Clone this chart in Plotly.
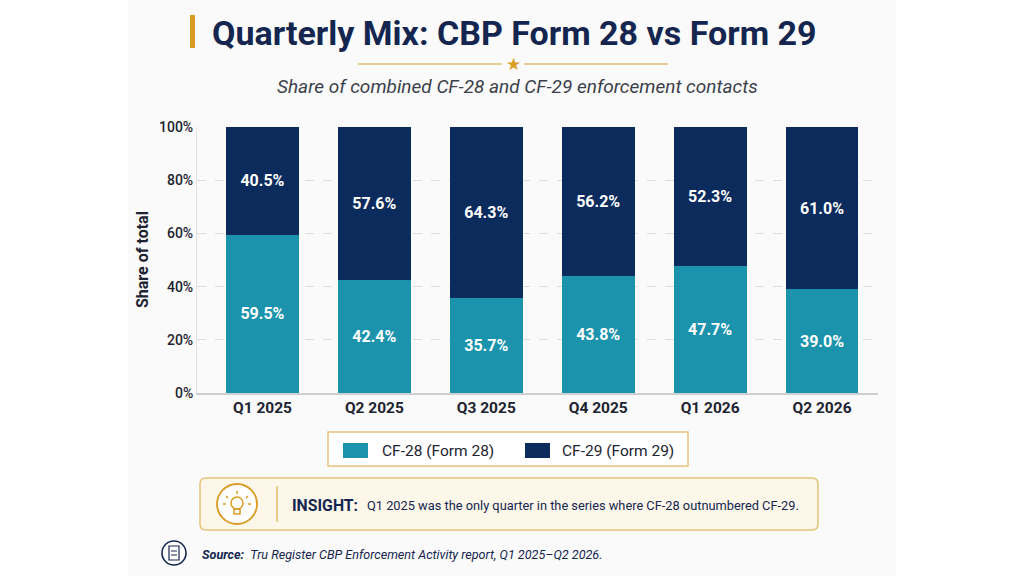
import plotly.graph_objects as go

quarters = ['Q1 2025', 'Q2 2025', 'Q3 2025', 'Q4 2025', 'Q1 2026', 'Q2 2026']
cf28_share = [59.5, 42.4, 35.7, 43.8, 47.7, 39.0]
cf29_share = [40.5, 57.6, 64.3, 56.2, 52.3, 61.0]
series_names = ['CF-28 (Form 28)', 'CF-29 (Form 29)']
y_ticks = [0, 20, 40, 60, 80, 100]
y_tick_labels = ['0%', '20%', '40%', '60%', '80%', '100%']

TEAL = '#1b93ad'
NAVY = '#0b2b5c'
INK = '#14264f'
GOLD = '#d89c22'
FONT = 'Roboto'

W, H = 1024, 576
L, R, T, B = 197, 146, 127, 183


# pixel -> paper helpers for the decorations around the plot
def px(x):
    return (x - L) / (W - L - R)


def py(y):
    return (H - B - y) / (H - T - B)


fig = go.Figure()
for vals, name, color in [(cf28_share, series_names[0], TEAL), (cf29_share, series_names[1], NAVY)]:
    fig.add_trace(go.Bar(
        x=quarters, y=vals, name=name,
        marker_color=color, marker_line_width=0, width=0.65,
        text=[f'{v:.1f}%' for v in vals], textposition='inside',
        insidetextanchor='middle',
        textfont=dict(color='white', size=16, family=FONT, weight='bold'),
        hoverinfo='none'
    ))


def line(x0, y0, x1, y1, color, width=1.5):
    return dict(type='line', xref='paper', yref='paper', x0=px(x0), x1=px(x1), y0=py(y0), y1=py(y1),
                line=dict(color=color, width=width))


shapes = [
    # light card behind the chart
    dict(type='rect', xref='paper', yref='paper', x0=px(128), x1=px(896), y0=py(576), y1=py(0),
         fillcolor='#fafafa', line_width=0, layer='below'),
    # gold accent next to title
    dict(type='rect', xref='paper', yref='paper', x0=px(190), x1=px(195), y0=py(48), y1=py(15),
         fillcolor=GOLD, line_width=0),
    # divider lines around star
    line(358, 64, 502, 64, '#e2be6e'),
    line(524, 64, 668, 64, '#e2be6e'),
    # legend box
    dict(type='rect', xref='paper', yref='paper', x0=px(328), x1=px(688), y0=py(466), y1=py(432),
         fillcolor='white', line=dict(color='#e6c27a', width=1.5)),
    dict(type='rect', xref='paper', yref='paper', x0=px(343), x1=px(368), y0=py(458), y1=py(443),
         fillcolor=TEAL, line_width=0),
    dict(type='rect', xref='paper', yref='paper', x0=px(525), x1=px(550), y0=py(458), y1=py(443),
         fillcolor=NAVY, line_width=0),
    # insight box
    dict(type='path', xref='paper', yref='paper',
         path=(f'M {px(206)},{py(478)} L {px(812)},{py(478)} Q {px(818)},{py(478)} {px(818)},{py(484)} '
               f'L {px(818)},{py(524)} Q {px(818)},{py(530)} {px(812)},{py(530)} '
               f'L {px(206)},{py(530)} Q {px(200)},{py(530)} {px(200)},{py(524)} '
               f'L {px(200)},{py(484)} Q {px(200)},{py(478)} {px(206)},{py(478)} Z'),
         fillcolor='#fdf7ea', line=dict(color='#e6c27a', width=1.5)),
    # bulb icon
    dict(type='circle', xref='paper', yref='paper', x0=px(217), x1=px(257), y0=py(524), y1=py(484),
         fillcolor='white', line=dict(color=GOLD, width=1.8)),
    dict(type='circle', xref='paper', yref='paper', x0=px(231), x1=px(243), y0=py(509), y1=py(497),
         line=dict(color=GOLD, width=1.5)),
    dict(type='rect', xref='paper', yref='paper', x0=px(234), x1=px(240), y0=py(514), y1=py(509),
         line=dict(color=GOLD, width=1.5)),
    line(237, 494, 237, 491, GOLD),
    line(228, 498, 226, 496, GOLD),
    line(246, 498, 248, 496, GOLD),
    line(226, 504, 223, 504, GOLD),
    line(248, 504, 251, 504, GOLD),
    # vertical divider in insight box
    line(277, 486, 277, 522, '#e2be6e'),
    # source icon
    dict(type='circle', xref='paper', yref='paper', x0=px(162), x1=px(186), y0=py(565), y1=py(541),
         fillcolor='white', line=dict(color=INK, width=1.6)),
    dict(type='rect', xref='paper', yref='paper', x0=px(169), x1=px(179), y0=py(560), y1=py(546),
         line=dict(color=INK, width=1.2)),
    line(171, 551, 177, 551, INK, 1),
    line(171, 555, 177, 555, INK, 1),
]

annotations = [
    dict(text='<b>Quarterly Mix: CBP Form 28 vs Form 29</b>', x=px(514), y=py(33),
         font=dict(size=34, color=INK, family=FONT)),
    dict(text='★', x=px(513), y=py(64), font=dict(size=17, color=GOLD, family='DejaVu Sans')),
    dict(text='<i>Share of combined CF-28 and CF-29 enforcement contacts</i>', x=px(517), y=py(86),
         font=dict(size=19, color='#3a3f4a', family=FONT)),
    dict(text='<b>Share of total</b>', x=px(142), y=py(260), textangle=-90,
         font=dict(size=16, color='#1d2330', family=FONT)),
    dict(text=series_names[0], x=px(380), y=py(451), xanchor='left',
         font=dict(size=15.5, color='#1d2330', family=FONT)),
    dict(text=series_names[1], x=px(560), y=py(451), xanchor='left',
         font=dict(size=15.5, color='#1d2330', family=FONT)),
    dict(text='<b>INSIGHT:</b>', x=px(290), y=py(505), xanchor='left',
         font=dict(size=15.8, color=INK, family=FONT)),
    dict(text='Q1 2025 was the only quarter in the series where CF-28 outnumbered CF-29.',
         x=px(365), y=py(505), xanchor='left', font=dict(size=12.8, color=INK, family=FONT)),
    dict(text='<b><i>Source:</i></b>  <i>Tru Register CBP Enforcement Activity report, Q1 2025–Q2 2026.</i>',
         x=px(200), y=py(554), xanchor='left', font=dict(size=12.6, color=INK, family=FONT)),
]
for a in annotations:
    a.update(xref='paper', yref='paper', showarrow=False)
    a.setdefault('xanchor', 'center')
    a.setdefault('yanchor', 'middle')

fig.update_layout(
    width=W, height=H,
    barmode='stack',
    paper_bgcolor='white',
    plot_bgcolor='white',
    margin=dict(l=L, r=R, t=T, b=B),
    font=dict(family=FONT, color='#1d2330'),
    showlegend=False,
    shapes=shapes,
    annotations=annotations,
)
fig.update_xaxes(range=[-0.585, 5.5], showline=True, linecolor='#cfcfcf', linewidth=1.5, ticks='',
                 tickfont=dict(size=15.5, color='#1d2330', family=FONT, weight='bold'))
fig.update_yaxes(range=[0, 100], tickvals=y_ticks, ticktext=y_tick_labels,
                 showgrid=True, gridcolor='#dedede', griddash='dash', gridwidth=1,
                 showline=True, linecolor='#e3e3e3', zeroline=False, ticks='',
                 tickfont=dict(size=14, color='#1d2330', family=FONT, weight=500))

fig.write_html('out.html', config={'displayModeBar': False},
               post_script="document.body.style.margin='0';")
